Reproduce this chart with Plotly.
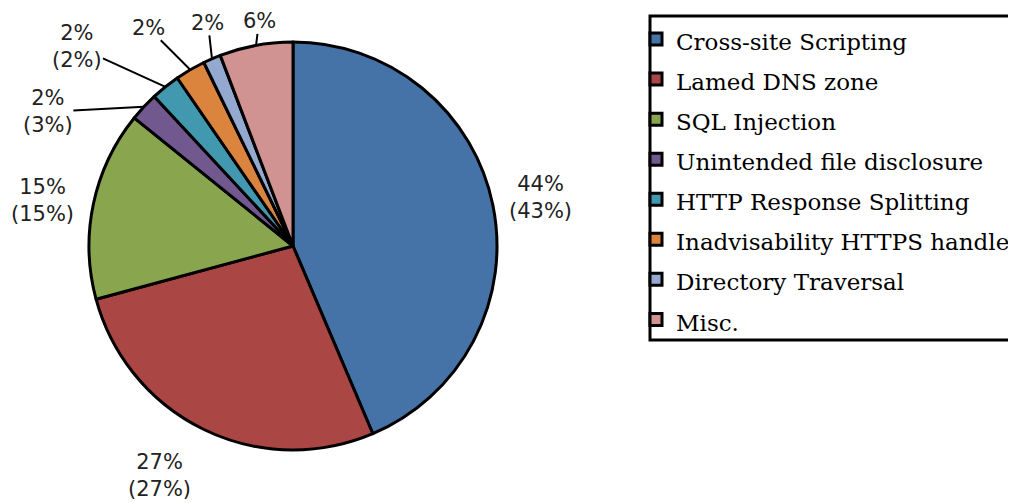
import numpy as np
import plotly.graph_objects as go

categories = ['Cross-site Scripting', 'Lamed DNS zone', 'SQL Injection',
              'Unintended file disclosure', 'HTTP Response Splitting',
              'Inadvisability HTTPS handle', 'Directory Traversal', 'Misc.']
shares = [43.6, 27.2, 15.0, 2.3, 2.3, 2.4, 1.4, 5.8]
share_labels = ['44%', '27%', '15%', '2%', '2%', '2%', '2%', '6%']
other_labels = ['(43%)', '(27%)', '(15%)', '(3%)', '(2%)', '', '', '']

colors = ['#4572A7', '#AA4643', '#89A54E', '#71588F',
          '#4198AF', '#DB843D', '#93A9CF', '#D19392']

# label offsets (px) from the slice edge, and whether a leader line is drawn
label_offsets = [(48, -8), (-44, 46), (-51, -4), (-96, 5),
                 (-88, -40), (-42, -42), (-4, -36), (3, -24)]
leader = [False, False, False, True, True, True, True, True]

# page body has an 8px margin, so the figure is drawn a bit smaller
PAD = 8
W, H = 1016 - PAD, 503 - PAD
cx, cy, R = 293 - PAD, 246 - PAD, 204

fig = go.Figure()
fig.add_trace(go.Pie(
    labels=['<span style="font-size:23px">%s</span>' % c for c in categories],
    values=shares, sort=False, direction='clockwise',
    rotation=0, textinfo='none', hoverinfo='label+percent',
    marker=dict(colors=colors, line=dict(color='black', width=3)),
    domain=dict(x=[(cx - R) / W, (cx + R) / W],
                y=[1 - (cy + R) / H, 1 - (cy - R) / H]),
))

# label positions follow the slice mid angles
cum = np.cumsum(shares) - np.array(shares) / 2
mid = cum / np.sum(shares) * 2 * np.pi
for i in range(len(categories)):
    ex = cx + R * np.sin(mid[i])
    ey = cy - R * np.cos(mid[i])
    txt = share_labels[i] + ('<br>' + other_labels[i] if other_labels[i] else '')
    dx, dy = label_offsets[i]
    fig.add_annotation(
        x=ex / W, y=1 - ey / H, xref='paper', yref='paper',
        ax=dx, ay=dy, text=txt, showarrow=True, arrowhead=0,
        arrowwidth=2, arrowcolor='black' if leader[i] else 'rgba(0,0,0,0)',
        font=dict(family='DejaVu Sans', size=21, color='#222'),
        align='center', borderpad=0,
    )

# legend frame
box_l, box_t, box_b = 650 - PAD, 16 - PAD, 340 - PAD
fig.add_shape(type='rect', xref='paper', yref='paper',
              x0=box_l / W, x1=(box_l + 400) / W,
              y0=1 - box_b / H, y1=1 - box_t / H,
              line=dict(color='black', width=3), fillcolor='rgba(0,0,0,0)')

fig.update_layout(
    width=W, height=H,
    margin=dict(l=0, r=0, t=0, b=0),
    paper_bgcolor='white', plot_bgcolor='white',
    showlegend=True,
    legend=dict(
        x=(636 - PAD) / W, y=1 - (14 - PAD) / H, xanchor='left', yanchor='top',
        borderwidth=0, bgcolor='rgba(0,0,0,0)',
        font=dict(family='DejaVu Serif', size=28.5, color='black'),
        tracegroupgap=0,
    ),
)

fig.write_html('out.html')
